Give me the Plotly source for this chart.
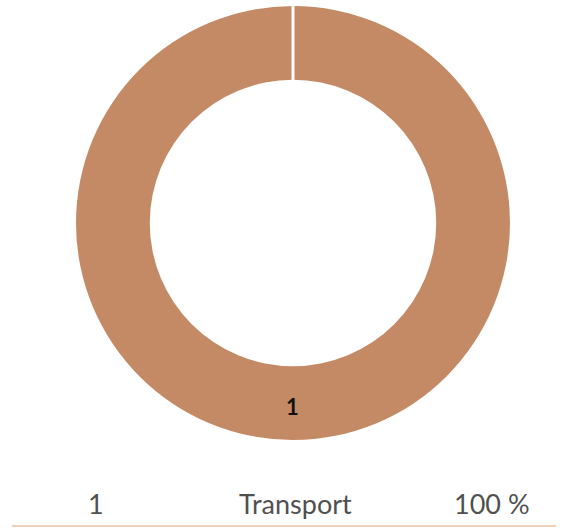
import plotly.graph_objects as go

labels = ["Transport"]
ids = ["1"]
values = [1]
percents = ["100 %"]

W, H = 564, 529
cx, cy, R = 293, 223, 217
HOLE = 0.66

fig = go.Figure()
fig.add_trace(go.Pie(
    labels=labels,
    values=values,
    text=ids,
    hole=HOLE,
    sort=False,
    direction="clockwise",
    rotation=0,
    textinfo="none",
    marker=dict(colors=["#C48A66"], line=dict(color="white", width=0)),
    domain=dict(x=[(cx - R) / W, (cx + R) / W], y=[1 - (cy + R) / H, 1 - (cy - R) / H]),
    showlegend=False,
    hoverinfo="label+percent",
))

# slice label inside the ring, at the bottom
fig.add_annotation(
    x=cx / W, y=1 - 406 / H, xref="paper", yref="paper",
    xanchor="center", yanchor="middle",
    text="<b>" + ids[0] + "</b>", showarrow=False,
    font=dict(family="Lato", size=22, color="#111111"),
)

# white separator at the start of the slice
fig.add_shape(type="line", xref="paper", yref="paper",
              x0=cx / W, x1=cx / W, y0=1 - (cy - R) / H + 0.01, y1=1 - (cy - HOLE * R) / H - 0.002,
              line=dict(color="white", width=3))

# table row below
row_y = 1 - 503 / H
for xpix, txt in [(96, ids[0]), (295, labels[0]), (492, percents[0])]:
    fig.add_annotation(
        x=xpix / W, y=row_y, xref="paper", yref="paper",
        xanchor="center", yanchor="middle",
        text=txt, showarrow=False,
        font=dict(family="Lato", size=27, color="#505050"),
    )

fig.add_shape(type="line", xref="paper", yref="paper",
              x0=12 / W, x1=556 / W, y0=1 - 526 / H, y1=1 - 526 / H,
              line=dict(color="#E9C1A4", width=1.5))

fig.update_layout(
    width=W, height=H,
    margin=dict(l=0, r=0, t=0, b=0),
    paper_bgcolor="white",
    plot_bgcolor="white",
)

fig.write_html("out.html", config={"displayModeBar": False},
               post_script="document.body.style.margin='0';")
